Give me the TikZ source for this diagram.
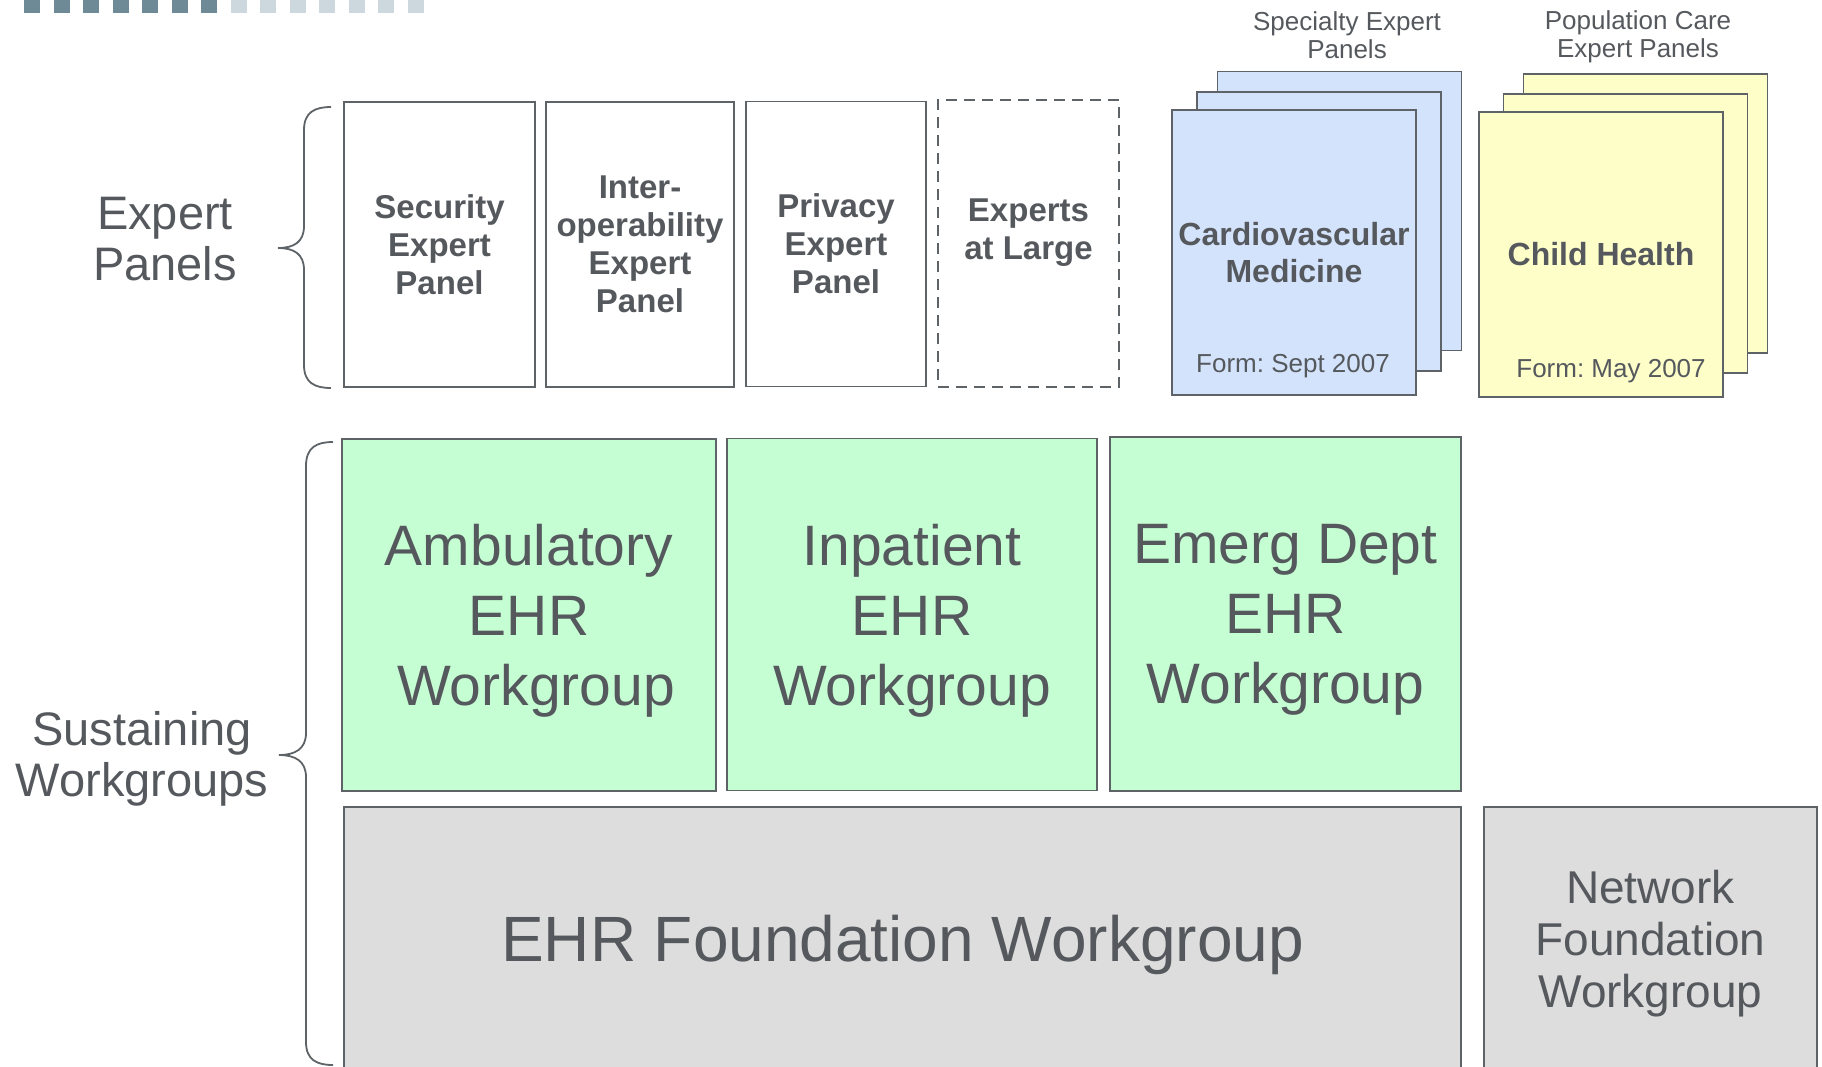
\documentclass[tikz,border=0pt]{standalone}
\usepackage{fontspec}
\setmainfont{Liberation Sans}
\usepackage{xcolor}
\frenchspacing
\definecolor{inkgray}{HTML}{55595D}
\definecolor{edgegray}{HTML}{5E6367}
\definecolor{wgreen}{HTML}{C6FED4}
\definecolor{pblue}{HTML}{D4E3FC}
\definecolor{pyellow}{HTML}{FEFEC8}
\definecolor{fgray}{HTML}{DDDDDD}
\definecolor{bardark}{HTML}{6E8A96}
\definecolor{barlight}{HTML}{CDD8DE}
\tikzset{
    box/.style={draw=edgegray, line width=1.8pt, text=inkgray, align=center},
    panel/.style={box, fill=white, minimum height=285,
        font=\fontsize{33}{38}\selectfont\bfseries},
    card/.style={box, minimum width=244, minimum height=279},
    workgroup/.style={box, fill=wgreen, minimum height=352, text depth=0pt,
        font=\fontsize{57}{70}\selectfont},
    foundation/.style={box, fill=fgray, minimum height=263, text depth=0pt},
    side/.style={text=inkgray, align=center, font=\fontsize{47}{51}\selectfont},
    stacklabel/.style={text=inkgray, align=center, font=\fontsize{26}{28}\selectfont},
    brace/.style={draw=edgegray, line width=1.8pt}
}
\begin{document}
\begin{tikzpicture}[x=1pt, y=-1pt]
    \useasboundingbox (0,0) rectangle (1822,1066);
    \clip (0,0) rectangle (1822,1066);
    \foreach \i in {0,...,6}
        \fill[bardark] ({24+29.5*\i},0) rectangle ++(16,13);
    \foreach \i in {7,...,13}
        \fill[barlight] ({24+29.5*\i},0) rectangle ++(16,13);

    \node[side] (expert) at (165,239) {Expert\\Panels};
    \node[side] (sustain) at (142,759) {Sustaining\\Workgroups};

    \draw[brace] (331,107) .. controls (315,107) and (304,112) .. (304,130)
        -- (304,226) .. controls (304,242) and (294,248) .. (278,248)
        .. controls (294,248) and (304,254) .. (304,270)
        -- (304,365) .. controls (304,383) and (315,388) .. (331,388);
    \draw[brace] (333,442) .. controls (317,442) and (306,447) .. (306,466)
        -- (306,733) .. controls (306,749) and (295,755) .. (279,755)
        .. controls (295,755) and (306,761) .. (306,777)
        -- (306,1042) .. controls (306,1060) and (317,1065) .. (333,1065);

    \node[panel, minimum width=191] (security) at (439.5,244.5) {Security\\Expert\\Panel};
    \node[panel, minimum width=188] (interop) at (640,244.5) {Inter-\\operability\\Expert\\Panel};
    \node[panel, minimum width=180] (privacy) at (836,244) {Privacy\\Expert\\Panel};
    \node[panel, dash pattern=on 11pt off 7pt, minimum width=181, minimum height=287] (large) at (1028.5,243.5) {};
    \node[text=inkgray, align=center, font=\fontsize{33}{38}\selectfont\bfseries] (largetext) at (1028.5,233) {Experts\\at Large};

    \node[stacklabel] (specialty) at (1347,35) {Specialty Expert\\Panels};
    \node[card, fill=pblue] (cardioback) at (1339.5,211) {};
    \node[card, fill=pblue] (cardiomid) at (1319,231.5) {};
    \node[card, fill=pblue, minimum height=285, font=\fontsize{32}{37}\selectfont\bfseries] (cardio) at (1294,252.5) {Cardiovascular\\Medicine};
    \node[stacklabel, anchor=base] (cardioform) at (1293,372) {Form: Sept 2007};

    \node[stacklabel] (population) at (1638,37) {Population Care\\Expert Panels};
    \node[card, fill=pyellow] (childback) at (1645.5,213.5) {};
    \node[card, fill=pyellow] (childmid) at (1625.5,233.5) {};
    \node[card, fill=pyellow, minimum height=285, font=\fontsize{32}{37}\selectfont\bfseries] (child) at (1601,254.5) {Child Health};
    \node[stacklabel, anchor=base] (childform) at (1611,377) {Form: May 2007};

    \node[workgroup, minimum width=374] (ambulatory) at (529,615) {Ambulatory\\EHR\\\hspace*{14pt}Workgroup};
    \node[workgroup, minimum width=370] (inpatient) at (912,614.5) {Inpatient\\EHR\\Workgroup};
    \node[workgroup, minimum width=351, minimum height=354] (emerg) at (1285.5,614) {Emerg Dept\\EHR\\Workgroup};

    \node[foundation, minimum width=1117, font=\fontsize{64}{70}\selectfont] (ehrfound) at (902.5,938.5) {EHR Foundation Workgroup};
    \node[foundation, minimum width=333, font=\fontsize{46}{52}\selectfont] (netfound) at (1650.5,938.5) {Network\\Foundation\\Workgroup};
\end{tikzpicture}
\end{document}
